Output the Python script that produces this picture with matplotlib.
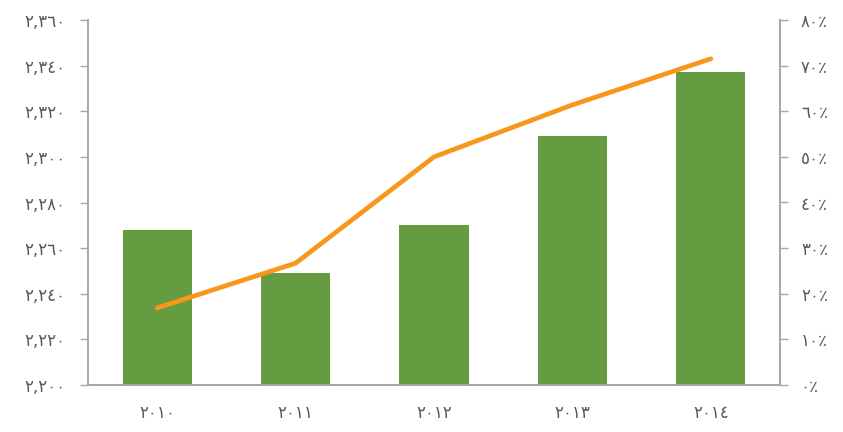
import matplotlib
matplotlib.use("Agg")
import matplotlib.pyplot as plt
from matplotlib.ticker import FuncFormatter

# --- data ---
years = ["٢٠١٠", "٢٠١١", "٢٠١٢", "٢٠١٣", "٢٠١٤"]
bar_values = [2268, 2249, 2270, 2309, 2337]
line_values = [16.9, 26.7, 50.0, 61.4, 71.5]  # percent

AR_DIGITS = str.maketrans("0123456789", "٠١٢٣٤٥٦٧٨٩")


def ar_num(v, pos=None):
    return f"{int(v):,}".translate(AR_DIGITS)


def ar_pct(v, pos=None):
    return (f"{int(round(v))}".translate(AR_DIGITS)) + "٪"


plt.rcParams['font.family'] = ['DejaVu Sans']
grey = "#a6a6a6"
txt = "#595959"

fig = plt.figure(figsize=(8.43, 4.32), dpi=100)
ax = fig.add_axes([0.1044, 0.1088, 0.8209, 0.8449])
x = list(range(len(years)))
ax.bar(x, bar_values, width=0.5, color="#669c41", zorder=2)
ax.set_ylim(2200, 2360)
ax.set_yticks(range(2200, 2361, 20))
ax.yaxis.set_major_formatter(FuncFormatter(ar_num))
ax.set_xlim(-0.5, 4.5)
ax.set_xticks(x)
ax.set_xticklabels(years)

ax2 = ax.twinx()
ax2.plot(x, line_values, color="#f7981d", lw=3.4, solid_capstyle="round", zorder=3)
ax2.set_ylim(0, 80)
ax2.set_yticks(range(0, 81, 10))
ax2.yaxis.set_major_formatter(FuncFormatter(ar_pct))

for a in (ax, ax2):
    a.spines['top'].set_visible(False)
    for s in ('left', 'right', 'bottom'):
        a.spines[s].set_color(grey)
        a.spines[s].set_linewidth(1.2)
    a.tick_params(colors=txt, labelsize=12, length=6, width=1, color=grey)
ax.tick_params(axis='x', length=0, pad=14)
ax.tick_params(axis='y', pad=10)
ax2.tick_params(axis='y', pad=9)

fig.savefig("out.png", dpi=100)
